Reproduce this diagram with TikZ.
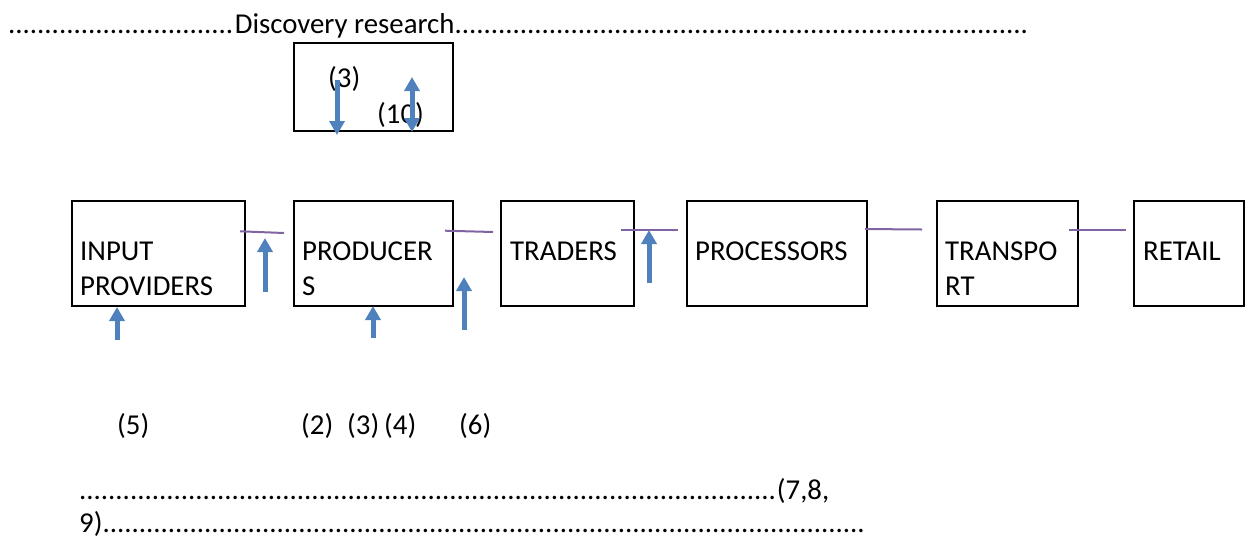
\documentclass[tikz,border=0pt]{standalone}
\usepackage{fontspec}
\setmainfont{Carlito}
\usetikzlibrary{arrows.meta}
\definecolor{flowblue}{HTML}{4F81BD}
\definecolor{linkpurple}{HTML}{8064A2}
% a run of full stops filling a given width
\newcommand\dotrun[1]{\hbox to #1{\leaders\hbox{.}\hfill}}

\begin{document}
\begin{tikzpicture}[x=1pt,y=-1pt,
  stage/.style={draw=black, line width=2pt, inner sep=0pt, anchor=north west},
  lbl/.style={anchor=base west, inner sep=0pt, font=\fontsize{28.8}{35}\selectfont},
  flow/.style={draw=flowblue, line width=5pt, -{Triangle[width=15pt,length=14pt]}},
  flowboth/.style={draw=flowblue, line width=5pt,
    {Triangle[width=15pt,length=14pt]}-{Triangle[width=15pt,length=14pt]}},
  link/.style={draw=linkpurple, line width=2pt}]
\useasboundingbox (0,0) rectangle (1247,539);

% heading line
\node[lbl] (head) at (8,33) {\dotrun{227pt}Discovery research\dotrun{576pt}};

% research box
\node[stage, minimum width=159pt, minimum height=88pt] (res) at (293,42) {};
\node[lbl] (r3) at (328,87) {(3)};
\node[lbl] (r10) at (377,123) {(10)};

% chain of stages
\node[stage, minimum width=173pt, minimum height=105pt] (inp) at (71,200) {};
\node[stage, minimum width=159pt, minimum height=105pt] (prod) at (293,200) {};
\node[stage, minimum width=133pt, minimum height=105pt] (trad) at (500,200) {};
\node[stage, minimum width=180pt, minimum height=105pt] (proc) at (686,200) {};
\node[stage, minimum width=141pt, minimum height=105pt] (trans) at (936,200) {};
\node[stage, minimum width=110pt, minimum height=105pt] (ret) at (1133,200) {};

\node[lbl] (inpA) at (80,260) {INPUT};
\node[lbl] (inpB) at (80,295) {PROVIDERS};
\node[lbl] (prodA) at (302,260) {PRODUCER};
\node[lbl] (prodB) at (302,295) {S};
\node[lbl] (tradA) at (510,260) {TRADERS};
\node[lbl] (procA) at (695,260) {PROCESSORS};
\node[lbl] (transA) at (945,260) {TRANSPO};
\node[lbl] (transB) at (945,295) {RT};
\node[lbl] (retA) at (1143,260) {RETAIL};

% short links between stages
\coordinate (l1a) at (240,231.3); \coordinate (l1b) at (284,233);
\coordinate (l2a) at (445,230.7); \coordinate (l2b) at (493,232);
\coordinate (l3a) at (621,230);   \coordinate (l3b) at (678,230);
\coordinate (l4a) at (865,229);   \coordinate (l4b) at (922,229.5);
\coordinate (l5a) at (1069,230);  \coordinate (l5b) at (1126,230);
\foreach \p in {1,...,5} \draw[link] (l\p a) -- (l\p b);

% flow arrows
\coordinate (f1a) at (337,80);  \coordinate (f1b) at (337,135);
\coordinate (f2a) at (412,77);  \coordinate (f2b) at (412,132);
\coordinate (f3a) at (265,292); \coordinate (f3b) at (265,238);
\coordinate (f4a) at (117,340); \coordinate (f4b) at (117,307);
\coordinate (f5a) at (373,338); \coordinate (f5b) at (373,306);
\coordinate (f6a) at (464,330); \coordinate (f6b) at (464,277);
\coordinate (f7a) at (649,283); \coordinate (f7b) at (649,230);
\draw[flow] (f1a) -- (f1b);
\draw[flowboth] (f2a) -- (f2b);
\foreach \p in {3,...,7} \draw[flow] (f\p a) -- (f\p b);

% numbered notes
\node[lbl] (n5) at (117,434) {(5)};
\node[lbl] (n2) at (301,434) {(2)};
\node[lbl] (n3) at (347,434) {(3)};
\node[lbl] (n4) at (384,434) {(4)};
\node[lbl] (n6) at (459,434) {(6)};

% closing line
\node[lbl] (tailA) at (79,499) {\dotrun{699pt}(7,8,};
\node[lbl] (tailB) at (79,532) {9)\dotrun{768pt}};
\end{tikzpicture}
\end{document}
